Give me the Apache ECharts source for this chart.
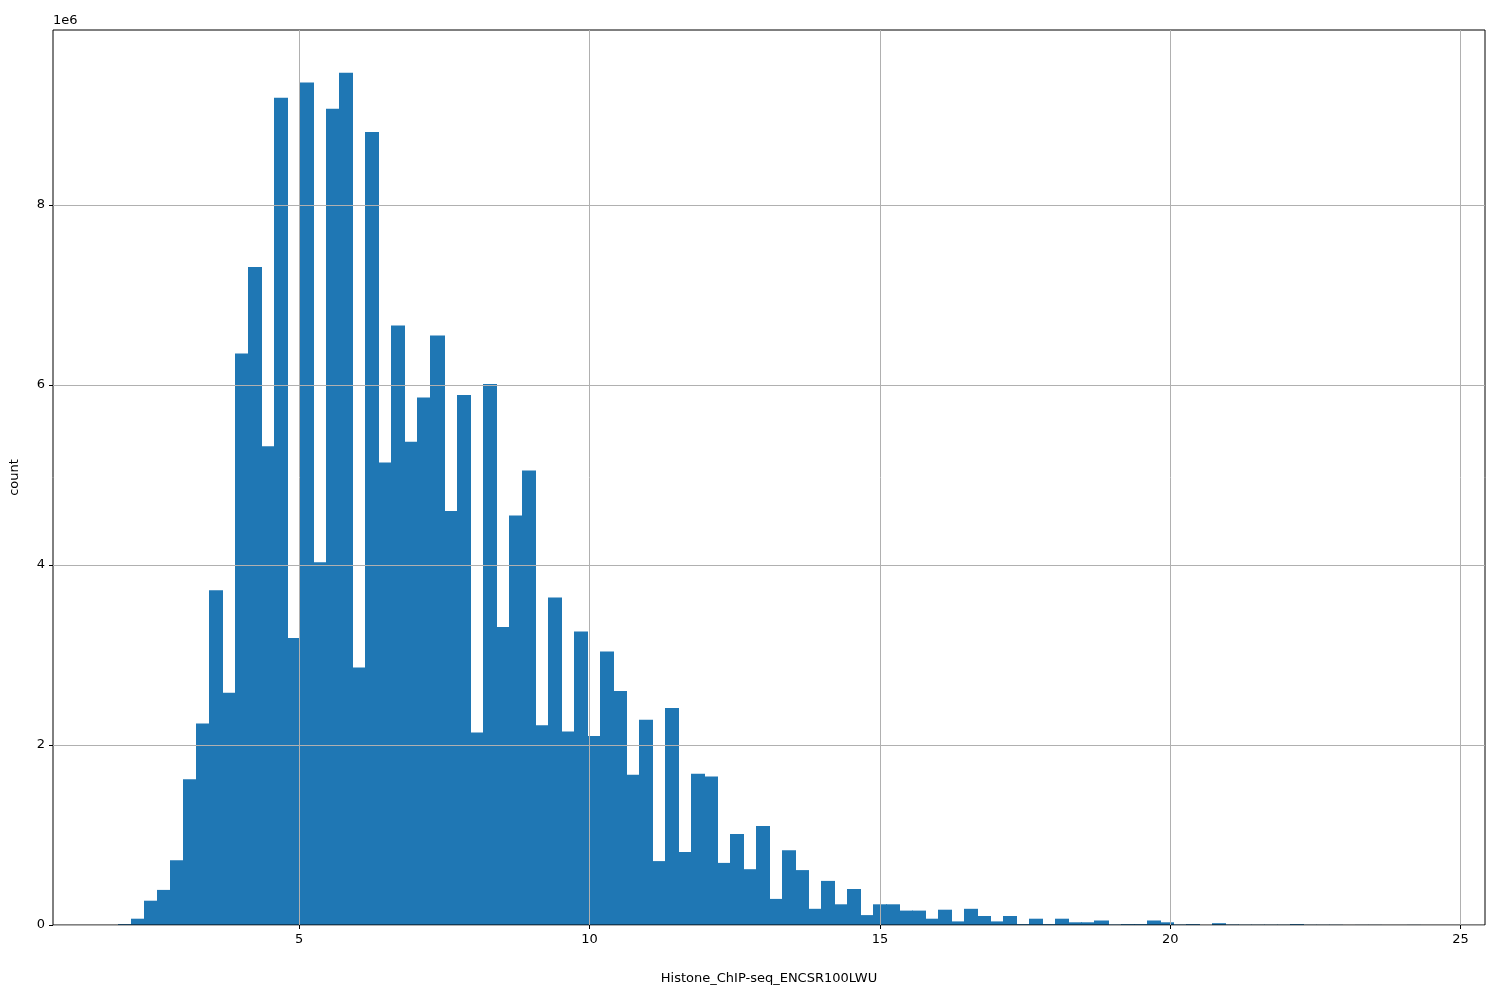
<!DOCTYPE html>
<html><head><meta charset="utf-8">
<script src="https://cdn.jsdelivr.net/npm/echarts@6/dist/echarts.min.js"></script>
<style>body{margin:0}#c{width:1500px;height:1000px}</style></head>
<body><div id="c"></div>
<script>
const binStart = 1.88;
const binWidth = 0.2242;
const counts = [0.01,0.07,0.27,0.39,0.72,1.62,2.24,3.72,2.58,6.35,7.31,5.32,9.19,3.19,9.36,4.03,9.07,9.47,2.86,8.81,
5.14,6.66,5.37,5.86,6.55,4.60,5.89,2.14,6.01,3.31,4.55,5.05,2.22,3.64,2.15,3.26,2.10,3.04,2.60,1.67,
2.28,0.71,2.41,0.81,1.68,1.65,0.69,1.01,0.62,1.10,0.29,0.83,0.61,0.18,0.49,0.23,0.40,0.11,0.23,0.23,
0.16,0.16,0.07,0.17,0.04,0.18,0.10,0.04,0.10,0.01,0.07,0.01,0.07,0.03,0.03,0.05,0.005,0.01,0.01,0.05,
0.03,0.005,0.01,0,0.02,0.005,0.003,0.003,0.003,0.003,0.01,0.002,0.002,0.002,0,0.001,0.001,0,0,0.001];
const xTicks = [5,10,15,20,25];
const yTicks = [0,2,4,6,8];
const data = counts.map((v,i)=>[binStart+i*binWidth, binStart+(i+1)*binWidth, v*1e6]);
const yTickVals = yTicks.map(v=>v*1e6);
const chart = echarts.init(document.getElementById('c'));
const font = {fontFamily:'DejaVu Sans', fontSize:13, color:'#000'};
chart.setOption({
  animation:false,
  grid:{left:53,right:15,top:30,bottom:75,show:true,borderColor:'#000',borderWidth:1,z:0,containLabel:false,outerBoundsMode:'none'},
  xAxis:{type:'value',min:0.76,max:25.42,z:3,
    name:'Histone_ChIP-seq_ENCSR100LWU',nameLocation:'middle',nameGap:47,nameTextStyle:font,
    axisLine:{show:false},
    axisTick:{customValues:xTicks,length:4,inside:false,lineStyle:{color:'#000'}},
    axisLabel:{customValues:xTicks,...font,margin:8},
    splitLine:{show:true,lineStyle:{color:'#b0b0b0',width:1}}},
  yAxis:{type:'value',min:0,max:9.944e6,z:3,
    name:'count',nameLocation:'middle',nameGap:32,nameTextStyle:font,
    axisLine:{show:false},
    axisTick:{show:true,customValues:yTickVals,length:4,lineStyle:{color:'#000'}},
    axisLabel:{...font,customValues:yTickVals,margin:8,formatter:v=>v/1e6},
    splitLine:{show:true,lineStyle:{color:'#b0b0b0',width:1}}},
  graphic:[{type:'text',left:53,top:14,style:{text:'1e6',font:'13px DejaVu Sans',fill:'#000'}}],
  series:[{type:'custom',z:-1,data:data,
    encode:{x:[0,1],y:2},
    renderItem:(params,api)=>{
      const p0=api.coord([api.value(0),api.value(2)]);
      const p1=api.coord([api.value(1),0]);
      return {type:'rect',shape:{x:Math.round(p0[0]),y:p0[1],width:Math.round(p1[0])-Math.round(p0[0])+1,height:p1[1]-p0[1]},
        style:{fill:'#1f77b4',stroke:null}};
    }}]
});
</script></body></html>
